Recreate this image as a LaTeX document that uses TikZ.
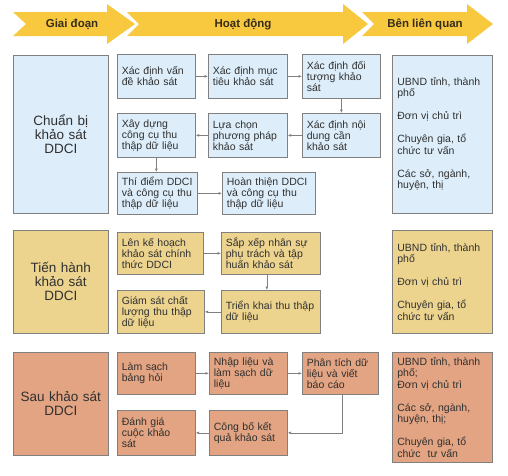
\documentclass[tikz,border=0pt]{standalone}
\usepackage{fontspec}
\setmainfont{Liberation Sans}
\usetikzlibrary{arrows.meta}

\definecolor{hdryellow}{RGB}{248,201,62}
\definecolor{prepblue}{RGB}{221,238,250}
\definecolor{runtan}{RGB}{236,211,142}
\definecolor{postsalmon}{RGB}{226,164,130}
\definecolor{boxline}{RGB}{128,128,128}
\definecolor{txtgray}{RGB}{48,48,48}

\begin{document}
\begin{tikzpicture}[x=1pt,y=1pt,yscale=-1,xscale=1,
	actbox/.style={draw=boxline, line width=0.7pt, fill=#1, anchor=north west,
		inner xsep=4.5pt, inner ysep=2pt, align=left, text=txtgray,
		font=\fontsize{10.5}{11}\selectfont},
	stagebox/.style={draw=boxline, line width=0.7pt, fill=#1, anchor=north west,
		inner xsep=5pt, align=center, text=txtgray, text width=85pt,
		font=\fontsize{13.5}{14}\selectfont},
	partybox/.style={draw=boxline, line width=0.7pt, fill=#1, anchor=north west,
		inner xsep=5pt, align=left, text=txtgray, text width=90pt,
		font=\fontsize{10.5}{11.5}\selectfont},
	hdrarrow/.style={fill=hdryellow, draw=none},
	hdrtext/.style={font=\fontsize{11.5}{12}\selectfont\bfseries, text={rgb,255:red,55;green,45;blue,25}},
	flow/.style={-{Latex[length=3.5pt,width=3pt]}, draw=boxline, line width=0.7pt}
	]

	\useasboundingbox (0,0) rectangle (508,475);

	%%HEADER ARROWS---------------------------------------------
	\fill[hdrarrow] (13,12) -- (107,12) -- (107,4) -- (135,24) -- (107,44) -- (107,36) -- (13,36) -- (26,24) -- cycle;
	\fill[hdrarrow] (127,12) -- (343,12) -- (343,4) -- (368,24) -- (343,44) -- (343,36) -- (127,36) -- (139,24) -- cycle;
	\fill[hdrarrow] (362,12) -- (467,12) -- (467,4) -- (493,24) -- (467,44) -- (467,36) -- (362,36) -- (374,24) -- cycle;
	% Text Node
	\draw (72,24) node [hdrtext] (hdrstage) {Giai đoạn};
	% Text Node
	\draw (243,24) node [hdrtext] (hdract) {Hoạt động};
	% Text Node
	\draw (425,24) node [hdrtext] (hdrparty) {Bên liên quan};

	%%CHUẨN BỊ---------------------------------------------
	\draw (13,55) node [stagebox=prepblue, minimum height=158pt] (chuanbi) {Chuẩn bị\\khảo sát\\DDCI};

	\draw (117,54) node [actbox=prepblue, text width=69pt, minimum height=44pt] (xdvande) {Xác định vấn\\đề khảo sát};
	\draw (208,54) node [actbox=prepblue, text width=70pt, minimum height=44pt] (xdmuctieu) {Xác định mục\\tiêu khảo sát};
	\draw (302,54) node [actbox=prepblue, text width=69pt, minimum height=44pt] (xddoituong) {Xác định đối\\tượng khảo\\sát};

	\draw (117,113) node [actbox=prepblue, text width=69pt, minimum height=44pt] (xaydung) {Xây dựng\\công cụ thu\\thập dữ liệu};
	\draw (208,113) node [actbox=prepblue, text width=70pt, minimum height=44pt] (luachon) {Lựa chọn\\phương pháp\\khảo sát};
	\draw (302,113) node [actbox=prepblue, text width=69pt, minimum height=44pt] (xdnoidung) {Xác định nội\\dung cần\\khảo sát};

	\draw (117,172) node [actbox=prepblue, text width=71pt, minimum height=42pt] (thidiem) {\mbox{Thí điểm DDCI}\\và công cụ thu\\thập dữ liệu};
	\draw (222,172) node [actbox=prepblue, text width=84pt, minimum height=42pt] (hoanthien) {Hoàn thiện DDCI\\và công cụ thu\\thập dữ liệu};

	\draw (392,55) node [partybox=prepblue, minimum height=158pt] (benlq1) {UBND tỉnh, thành\\phố\\[11.5pt]Đơn vị chủ trì\\[11.5pt]Chuyên gia, tổ\\chức tư vấn\\[11.5pt]Các sở, ngành,\\huyện, thị};

	\draw[flow] (xdvande) -- (xdmuctieu);
	\draw[flow] (xdmuctieu) -- (xddoituong);
	\draw[flow] (xddoituong) -- (xdnoidung);
	\draw[flow] (xdnoidung) -- (luachon);
	\draw[flow] (luachon) -- (xaydung);
	\draw[flow] (xaydung.south) -- (xaydung.south |- thidiem.north);
	\draw[flow] (thidiem) -- (hoanthien);

	%%TIẾN HÀNH---------------------------------------------
	\draw (13,230) node [stagebox=runtan, minimum height=103pt] (tienhanh) {Tiến hành\\khảo sát\\DDCI};

	\draw (117,232) node [actbox=runtan, text width=77pt, minimum height=42pt] (lenkehoach) {Lên kế hoạch\\khảo sát chính\\thức DDCI};
	\draw (221,232) node [actbox=runtan, text width=90pt, minimum height=42pt] (sapxep) {Sắp xếp nhân sự\\phụ trách và tập\\huấn khảo sát};
	\draw (117,290) node [actbox=runtan, text width=78pt, minimum height=43pt] (giamsat) {Giám sát chất\\lượng thu thập\\dữ liệu};
	\draw (221,290) node [actbox=runtan, text width=90pt, minimum height=43pt] (trienkhai) {\mbox{Triển khai thu thập}\\dữ liệu};

	\draw (392,230) node [partybox=runtan, minimum height=103pt] (benlq2) {UBND tỉnh, thành\\phố\\[11.5pt]Đơn vị chủ trì\\[11.5pt]Chuyên gia, tổ\\chức tư vấn};

	\draw[flow] (lenkehoach) -- (sapxep);
	\draw[flow] ([xshift=-4pt]sapxep.south) -- ([xshift=-4pt]sapxep.south |- trienkhai.north);
	\draw[flow] (trienkhai) -- (giamsat);

	%%SAU KHẢO SÁT---------------------------------------------
	\draw (13,352) node [stagebox=postsalmon, minimum height=103pt] (saukhaosat) {Sau khảo sát\\DDCI};

	\draw (117,352) node [actbox=postsalmon, text width=69pt, minimum height=42pt] (lamsach) {Làm sạch\\bảng hỏi};
	\draw (209,352) node [actbox=postsalmon, text width=69pt, minimum height=42pt] (nhaplieu) {Nhập liệu và\\làm sạch dữ\\liệu};
	\draw (302,352) node [actbox=postsalmon, text width=67pt, minimum height=42pt] (phantich) {Phân tích dữ\\liệu và viết\\báo cáo};
	\draw (117,410) node [actbox=postsalmon, text width=69pt, minimum height=45pt] (danhgia) {Đánh giá\\cuộc khảo\\sát};
	\draw (209,410) node [actbox=postsalmon, text width=69pt, minimum height=45pt] (congbo) {Công bố kết\\quả khảo sát};

	\draw (392,352) node [partybox=postsalmon, minimum height=110pt] (benlq3) {UBND tỉnh, thành\\phố;\\Đơn vị chủ trì\\[11.5pt]Các sở, ngành,\\huyện, thị;\\[11.5pt]Chuyên gia, tổ\\chức\ \ tư vấn};

	\draw[flow] (lamsach) -- (nhaplieu);
	\draw[flow] (nhaplieu) -- (phantich);
	\draw[flow] ([xshift=2pt]phantich.south) |- (congbo.east);
	\draw[flow] (congbo) -- (danhgia);

\end{tikzpicture}
\end{document}
